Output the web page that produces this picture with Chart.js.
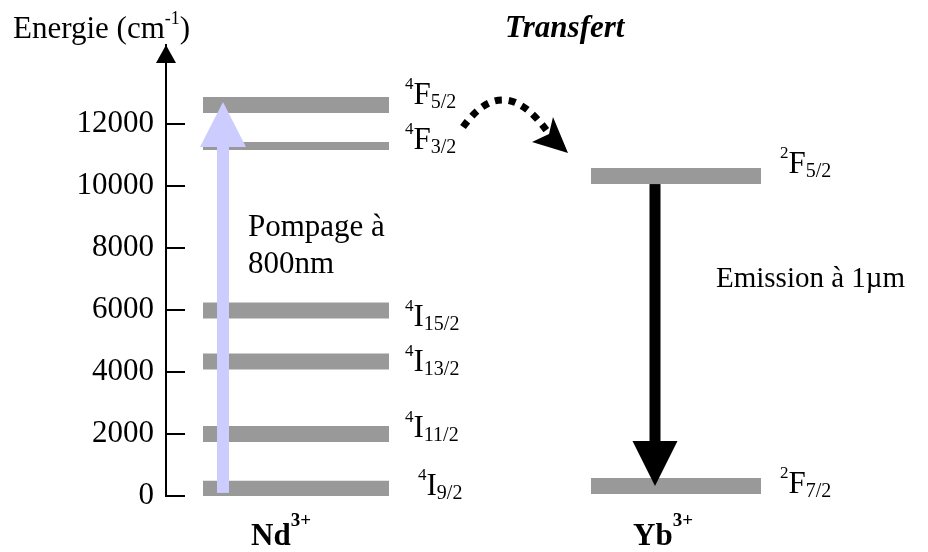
<!DOCTYPE html>
<html>
<head>
<meta charset="utf-8">
<script src="https://cdn.jsdelivr.net/npm/chart.js@4.4.1/dist/chart.umd.min.js"></script>
<style>
  html, body { margin: 0; padding: 0; background: #fff; }
  #wrap { width: 928px; height: 552px; position: relative; }
</style>
</head>
<body>
<div id="wrap"><canvas id="levels-chart"></canvas></div>
<script>
// Energy levels in cm-1
const ndLevels = ['4I9/2', '4I11/2', '4I13/2', '4I15/2', '4F3/2', '4F5/2'];
const ndEnergies = [230, 2000, 4340, 5980, 11290, 12610];
const ybLevels = ['2F7/2', '2F5/2'];
const ybEnergies = [320, 10320];
const energyTicks = [0, 2000, 4000, 6000, 8000, 10000, 12000];
const pumpRange = [100, 12710];

// layout (x scale is a plain horizontal layout axis)
const FONT = '"Liberation Serif", "Times New Roman", serif';
const ndSpan = [37, 223];
const ybSpan = [425, 595];
const pumpX = 57;
const emissionX = 489;
const thinLevels = ['4F3/2'];
const labelX = { nd: 239, yb: 614, '4I9/2': 252 };
const labelDy = { '4F5/2': -1, '4F3/2': 3, '4I15/2': 15, '4I13/2': 10, '4I11/2': 3, '4I9/2': 6, '2F5/2': -3, '2F7/2': 7 };
// dotted transfer arc: start, control, end (x units, cm-1)
const transferArc = [[297, 11900], [338, 13760], [383, 11680]];
const transferHead = [[402, 11065], [387, 12226], [383, 11677], [366, 11419]];

const levelDataset = (name, energy, span) => ({
    label: name,
    data: [{ x: span[0], y: energy }, { x: span[1], y: energy }],
    borderColor: '#999999',
    borderWidth: thinLevels.includes(name) ? 8 : 16,
    borderCapStyle: 'butt',
    pointRadius: 0,
    showLine: true,
});

const datasets = [
    ...ndLevels.map((n, i) => levelDataset(n, ndEnergies[i], ndSpan)),
    ...ybLevels.map((n, i) => levelDataset(n, ybEnergies[i], ybSpan)),
];

const drawArrow = (ctx, px, yStart, yTip, shaftW, headW, headL, color) => {
    const dir = yTip < yStart ? -1 : 1;
    const yBase = yTip - dir * headL;
    ctx.fillStyle = color;
    ctx.fillRect(px - shaftW / 2, Math.min(yStart, yBase), shaftW, Math.abs(yBase - yStart));
    ctx.beginPath();
    ctx.moveTo(px, yTip);
    ctx.lineTo(px - headW / 2, yBase);
    ctx.lineTo(px + headW / 2, yBase);
    ctx.closePath();
    ctx.fill();
};

const drawTerm = (ctx, term, x0, yb) => {
    let x = x0;
    ctx.font = `17px ${FONT}`;
    ctx.fillText(term[0], x, yb - 15);
    x += ctx.measureText(term[0]).width;
    ctx.font = `31px ${FONT}`;
    ctx.fillText(term[1], x, yb);
    x += ctx.measureText(term[1]).width;
    ctx.font = `20px ${FONT}`;
    ctx.fillText(term.slice(2), x, yb + 4);
};

const drawIon = (ctx, name, charge, x0, yb) => {
    ctx.font = `bold 31px ${FONT}`;
    ctx.fillText(name, x0, yb);
    const w = ctx.measureText(name).width;
    ctx.font = `bold 19px ${FONT}`;
    ctx.fillText(charge, x0 + w, yb - 19);
};

const diagramPlugin = {
    id: 'diagram',
    afterDatasetsDraw(chart) {
        const { ctx, scales: { x, y } } = chart;
        ctx.save();
        // pumping arrow (lavender), emission arrow (black)
        drawArrow(ctx, x.getPixelForValue(pumpX), y.getPixelForValue(pumpRange[0]),
            y.getPixelForValue(pumpRange[1]), 12, 46, 45, '#ccccff');
        drawArrow(ctx, x.getPixelForValue(emissionX), y.getPixelForValue(ybEnergies[1]) + 8,
            y.getPixelForValue(ybEnergies[0]), 11, 45, 45, '#000000');

        // dotted transfer arc
        const p = transferArc.map(([a, b]) => [x.getPixelForValue(a), y.getPixelForValue(b)]);
        ctx.strokeStyle = '#000';
        ctx.lineWidth = 7;
        ctx.setLineDash([7, 7]);
        ctx.beginPath();
        ctx.moveTo(p[0][0], p[0][1]);
        ctx.quadraticCurveTo(p[1][0], p[1][1], p[2][0], p[2][1]);
        ctx.stroke();
        ctx.setLineDash([]);
        const h = transferHead.map(([a, b]) => [x.getPixelForValue(a), y.getPixelForValue(b)]);
        ctx.fillStyle = '#000';
        ctx.beginPath();
        h.forEach(([hx, hy], i) => (i ? ctx.lineTo(hx, hy) : ctx.moveTo(hx, hy)));
        ctx.closePath();
        ctx.fill();
        ctx.restore();
    },
    afterDraw(chart) {
        const { ctx, scales: { x, y } } = chart;
        ctx.save();
        ctx.fillStyle = '#000';
        ctx.strokeStyle = '#000';
        ctx.textAlign = 'left';
        ctx.textBaseline = 'alphabetic';

        // tick marks on the right of the axis + arrow head on top
        ctx.lineWidth = 2;
        y.ticks.forEach(t => {
            const py = Math.round(y.getPixelForValue(t.value));
            ctx.beginPath();
            ctx.moveTo(y.right - 1, py);
            ctx.lineTo(y.right + 19, py);
            ctx.stroke();
        });
        ctx.beginPath();
        ctx.moveTo(y.right, y.top);
        ctx.lineTo(y.right - 10, y.top + 18);
        ctx.lineTo(y.right + 10, y.top + 18);
        ctx.closePath();
        ctx.fill();

        // axis title
        ctx.font = `31px ${FONT}`;
        ctx.fillText('Energie (cm', 13, 38);
        let w = ctx.measureText('Energie (cm').width;
        ctx.font = `18px ${FONT}`;
        ctx.fillText('-1', 13 + w, 24);
        w += ctx.measureText('-1').width;
        ctx.font = `31px ${FONT}`;
        ctx.fillText(')', 13 + w, 38);

        ctx.font = `italic bold 31px ${FONT}`;
        ctx.fillText('Transfert', 505, 37);

        ctx.font = `31px ${FONT}`;
        ctx.fillText('Pompage à', 248, 236);
        ctx.fillText('800nm', 248, 273);
        ctx.font = `29px ${FONT}`;
        ctx.fillText('Emission à 1µm', 716, 287);

        // level labels
        ndLevels.forEach((n, i) => {
            const lx = x.getPixelForValue(labelX[n] ?? labelX.nd);
            drawTerm(ctx, n, lx, y.getPixelForValue(ndEnergies[i]) + labelDy[n]);
        });
        ybLevels.forEach((n, i) => {
            const lx = x.getPixelForValue(labelX.yb);
            drawTerm(ctx, n, lx, y.getPixelForValue(ybEnergies[i]) + labelDy[n]);
        });

        drawIon(ctx, 'Nd', '3+', 251, 545);
        drawIon(ctx, 'Yb', '3+', 633, 545);
        ctx.restore();
    },
};

const element = document.getElementById('levels-chart');
new Chart(element, {
    type: 'line',
    data: { datasets },
    plugins: [diagramPlugin],
    options: {
        responsive: true,
        maintainAspectRatio: false,
        animation: false,
        layout: { padding: { left: 0, right: 28, top: 45, bottom: 56 } },
        plugins: { legend: { display: false }, tooltip: { enabled: false } },
        scales: {
            x: { type: 'linear', min: 0, max: 734, display: false },
            y: {
                type: 'linear',
                min: 0,
                max: 14548,
                afterBuildTicks: s => { s.ticks = energyTicks.map(v => ({ value: v })); },
                afterFit: s => { s.width = 166; },
                grid: { display: true, drawOnChartArea: false, drawTicks: false },
                border: { display: true, color: '#000', width: 2 },
                ticks: {
                    color: '#000',
                    padding: 12,
                    font: { family: FONT, size: 31 },
                    callback: v => String(v),
                },
            },
        },
    },
});
</script>
</body>
</html>
